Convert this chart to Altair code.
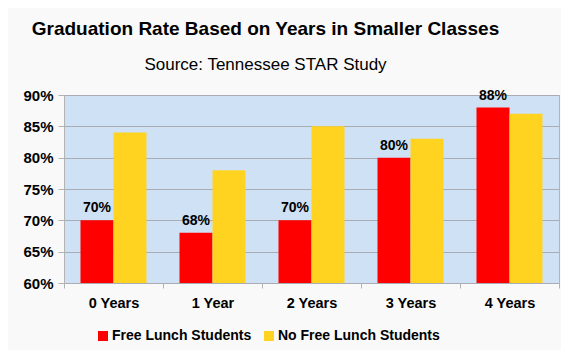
import altair as alt
import pandas as pd

categories = ["0 Years", "1 Year", "2 Years", "3 Years", "4 Years"]
free_lunch = [0.70, 0.68, 0.70, 0.80, 0.88]
no_free_lunch = [0.84, 0.78, 0.85, 0.83, 0.87]
series_names = ["Free Lunch Students", "No Free Lunch Students"]
series_colors = ["#ff0000", "#ffd320"]
y_ticks = [0.6, 0.65, 0.7, 0.75, 0.8, 0.85, 0.9]

rows = []
for c, a, b in zip(categories, free_lunch, no_free_lunch):
    rows.append({"cat": c, "series": series_names[0], "value": a})
    rows.append({"cat": c, "series": series_names[1], "value": b})
df = pd.DataFrame(rows)

FONT = "Liberation Sans"

x = alt.X("cat:N", sort=categories, title=None,
          scale=alt.Scale(paddingInner=0, paddingOuter=0),
          axis=alt.Axis(labelAngle=0, labelFont=FONT, labelFontSize=14.5, labelFontWeight="bold",
                        labelColor="#000000", tickBand="extent", tickSize=5, tickColor="#b3b3b3",
                        domain=False, grid=False, labelPadding=8))
xo = alt.XOffset("series:N", sort=series_names,
                 scale=alt.Scale(paddingInner=0, paddingOuter=0.5))
y = alt.Y("value:Q", title=None,
          scale=alt.Scale(domain=[0.6, 0.9], zero=False, nice=False),
          axis=alt.Axis(format=".0%", values=y_ticks, labelOverlap=False, tickCount=7,
                        labelFont=FONT, labelFontSize=15, labelFontWeight="bold",
                        labelColor="#000000", tickSize=6, tickColor="#b3b3b3",
                        domain=False, grid=True, gridColor="#a9adb3", labelPadding=5))

bars = alt.Chart(df).mark_bar(clip=True).encode(
    x=x, xOffset=xo, y=y,
    color=alt.Color("series:N", sort=series_names,
                    scale=alt.Scale(domain=series_names, range=series_colors),
                    legend=alt.Legend(title=None, orient="none", direction="horizontal",
                                      legendX=32, legendY=234, padding=0, labelLimit=400,
                                      symbolType="square", symbolSize=100, symbolStrokeWidth=0,
                                      labelFont=FONT, labelFontSize=14, labelFontWeight="bold",
                                      labelColor="#000000", labelOffset=2, columnPadding=10)),
)

labels = alt.Chart(df).transform_filter(
    alt.datum.series == series_names[0]
).mark_text(font=FONT, fontSize=14, fontWeight="bold", baseline="bottom", dy=-5, color="#000000").encode(
    x=x, xOffset=xo, y=y,
    text=alt.Text("value:Q", format=".0%"),
)

chart = alt.layer(bars, labels).properties(
    width=495, height=188,
    autosize=alt.AutoSizeParams(type="none"),
    padding={"left": 56, "top": 87, "right": 2, "bottom": 67},
    background="#f9f9f9",
    title=alt.TitleParams(
        "Graduation Rate Based on Years in Smaller Classes",
        subtitle="Source: Tennessee STAR Study",
        font=FONT, fontSize=19, fontWeight="bold", color="#000000",
        subtitleFont=FONT, subtitleFontSize=17, subtitleColor="#000000",
        subtitlePadding=18, anchor="middle", frame="group", dx=-46, offset=15,
    ),
).configure_view(fill="#cfe1f5", stroke="#b3b3b3", strokeWidth=1)

chart.save("out.html", embed_options={"renderer": "svg", "actions": False})
